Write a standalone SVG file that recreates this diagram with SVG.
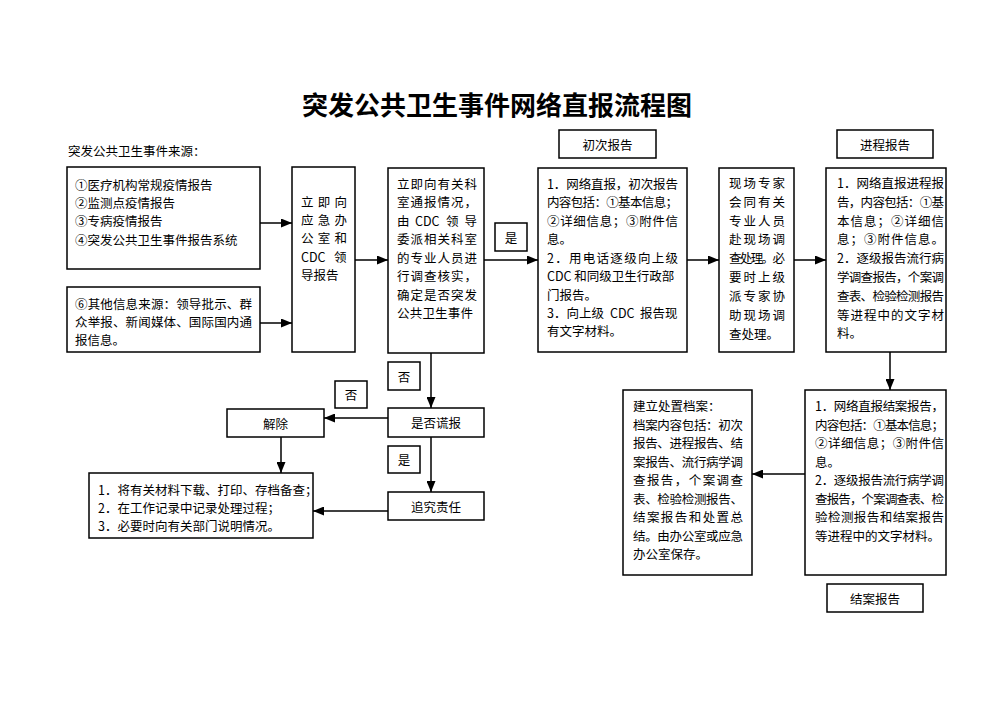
<svg xmlns="http://www.w3.org/2000/svg" width="1000" height="707" viewBox="0 0 1000 707">
<style>
text{font-family:"Noto Sans CJK SC","Noto Sans",sans-serif;font-size:12.5px;fill:#000;dominant-baseline:central}
.title{font-size:26px;font-weight:bold;text-anchor:middle}
.mid{text-anchor:middle}
rect{fill:#fff;stroke:#000;stroke-width:1.5}
.conn line{stroke:#000;stroke-width:1.5;marker-end:url(#arr)}
</style>
<defs>
<marker id="arr" markerUnits="userSpaceOnUse" markerWidth="11" markerHeight="9" refX="11" refY="4.5" orient="auto">
<path d="M0,0 L11,4.5 L0,9 z" fill="#000"/>
</marker>
</defs>
<rect x="0" y="0" width="1000" height="707" style="stroke:none;fill:#fff"/>
<text class="title" x="497" y="103">突发公共卫生事件网络直报流程图</text>
<text x="68" y="150">突发公共卫生事件来源：</text>

<g class="conn">
<line x1="260" y1="223" x2="292" y2="223"/>
<line x1="260" y1="323" x2="292" y2="323"/>
<line x1="355" y1="260" x2="388" y2="260"/>
<line x1="484" y1="260" x2="538" y2="260"/>
<line x1="687" y1="260" x2="719" y2="260"/>
<line x1="794" y1="260" x2="826" y2="260"/>
<line x1="890" y1="352" x2="890" y2="390"/>
<line x1="805" y1="474" x2="752" y2="474"/>
<line x1="431" y1="353" x2="431" y2="408"/>
<line x1="388" y1="418" x2="324" y2="418"/>
<line x1="431" y1="437" x2="431" y2="492"/>
<line x1="281" y1="437" x2="281" y2="473"/>
<line x1="388" y1="511" x2="313" y2="511"/>
</g>

<g id="src1">
<rect x="67" y="167" width="193" height="102"/>
<text x="75" y="184">①医疗机构常规疫情报告</text>
<text x="75" y="202">②监测点疫情报告</text>
<text x="75" y="220">③专病疫情报告</text>
<text x="75" y="239">④突发公共卫生事件报告系统</text>
</g>

<g id="src2">
<rect x="67" y="287" width="193" height="65"/>
<text x="75" y="303" textLength="177" lengthAdjust="spacing">⑥其他信息来源：领导批示、群</text>
<text x="75" y="321" textLength="177" lengthAdjust="spacing">众举报、新闻媒体、国际国内通</text>
<text x="75" y="339">报信息。</text>
</g>

<g id="report">
<rect x="292" y="167" width="63" height="185"/>
<text x="301" y="201" textLength="46" lengthAdjust="spacing">立即向</text>
<text x="301" y="219" textLength="46" lengthAdjust="spacing">应急办</text>
<text x="301" y="237" textLength="46" lengthAdjust="spacing">公室和</text>
<text y="256"><tspan x="301">CDC</tspan><tspan x="334">领</tspan></text>
<text x="301" y="274">导报告</text>
</g>

<g id="verify">
<rect x="388" y="168" width="96" height="185"/>
<text x="397" y="183" textLength="80" lengthAdjust="spacing">立即向有关科</text>
<text x="397" y="201" textLength="80" lengthAdjust="spacing">室通报情况，</text>
<text y="220"><tspan x="397">由</tspan><tspan x="415">CDC</tspan><tspan x="446">领</tspan><tspan x="464.5">导</tspan></text>
<text x="397" y="238" textLength="80" lengthAdjust="spacing">委派相关科室</text>
<text x="397" y="257" textLength="80" lengthAdjust="spacing">的专业人员进</text>
<text x="397" y="275" textLength="80" lengthAdjust="spacing">行调查核实，</text>
<text x="397" y="294" textLength="80" lengthAdjust="spacing">确定是否突发</text>
<text x="397" y="312" textLength="76" lengthAdjust="spacing">公共卫生事件</text>
</g>

<g id="yes1"><rect x="495" y="223" width="32" height="28"/><text class="mid" x="511" y="237">是</text></g>

<g id="initialLabel"><rect x="559" y="130" width="97" height="28"/><text class="mid" x="607.5" y="144">初次报告</text></g>
<g id="initial">
<rect x="538" y="168" width="149" height="184"/>
<text x="547" y="183" textLength="131" lengthAdjust="spacing">1．网络直报，初次报告</text>
<text x="547" y="201" textLength="131" lengthAdjust="spacing">内容包括：①基本信息；</text>
<text x="547" y="220" textLength="131" lengthAdjust="spacing">②详细信息；③附件信</text>
<text x="547" y="238">息。</text>
<text x="547" y="257" textLength="131" lengthAdjust="spacing">2．用电话逐级向上级</text>
<text x="547" y="275">CDC 和同级卫生行政部</text>
<text x="547" y="294">门报告。</text>
<text y="312"><tspan x="547">3．向上级</tspan><tspan x="610">CDC</tspan><tspan x="640">报告现</tspan></text>
<text x="547" y="330">有文字材料。</text>
</g>

<g id="onsite">
<rect x="719" y="168" width="75" height="184"/>
<text x="729" y="182" textLength="56" lengthAdjust="spacing">现场专家</text>
<text x="729" y="201" textLength="56" lengthAdjust="spacing">会同有关</text>
<text x="729" y="220" textLength="56" lengthAdjust="spacing">专业人员</text>
<text x="729" y="238" textLength="56" lengthAdjust="spacing">赴现场调</text>
<text x="729" y="257" textLength="56" lengthAdjust="spacing">查处理。必</text>
<text x="729" y="276" textLength="56" lengthAdjust="spacing">要时上级</text>
<text x="729" y="295" textLength="56" lengthAdjust="spacing">派专家协</text>
<text x="729" y="314" textLength="56" lengthAdjust="spacing">助现场调</text>
<text x="729" y="333">查处理。</text>
</g>

<g id="progressLabel"><rect x="837" y="130" width="96" height="28"/><text class="mid" x="885" y="144">进程报告</text></g>
<g id="progress">
<rect x="826" y="168" width="120" height="184"/>
<text x="837" y="182" textLength="107" lengthAdjust="spacing">1．网络直报进程报</text>
<text x="837" y="201" textLength="107" lengthAdjust="spacing">告，内容包括：①基</text>
<text x="837" y="220" textLength="107" lengthAdjust="spacing">本信息；②详细信</text>
<text x="837" y="238" textLength="107" lengthAdjust="spacing">息；③附件信息。</text>
<text x="837" y="257" textLength="107" lengthAdjust="spacing">2．逐级报告流行病</text>
<text x="837" y="276" textLength="107" lengthAdjust="spacing">学调查报告，个案调</text>
<text x="837" y="295" textLength="107" lengthAdjust="spacing">查表、检验检测报告</text>
<text x="837" y="314" textLength="107" lengthAdjust="spacing">等进程中的文字材</text>
<text x="837" y="332">料。</text>
</g>

<g id="final">
<rect x="805" y="390" width="141" height="185"/>
<text x="815" y="405" textLength="129" lengthAdjust="spacing">1．网络直报结案报告，</text>
<text x="815" y="424" textLength="129" lengthAdjust="spacing">内容包括：①基本信息；</text>
<text x="815" y="442" textLength="129" lengthAdjust="spacing">②详细信息；③附件信</text>
<text x="815" y="461">息。</text>
<text x="815" y="479" textLength="129" lengthAdjust="spacing">2．逐级报告流行病学调</text>
<text x="815" y="498" textLength="129" lengthAdjust="spacing">查报告，个案调查表、检</text>
<text x="815" y="516" textLength="129" lengthAdjust="spacing">验检测报告和结案报告</text>
<text x="815" y="535">等进程中的文字材料。</text>
</g>
<g id="finalLabel"><rect x="827" y="584" width="96" height="28"/><text class="mid" x="875" y="598">结案报告</text></g>

<g id="archive">
<rect x="623" y="390" width="129" height="185"/>
<text x="633" y="405">建立处置档案：</text>
<text x="633" y="424" textLength="110" lengthAdjust="spacing">档案内容包括：初次</text>
<text x="633" y="442" textLength="110" lengthAdjust="spacing">报告、进程报告、结</text>
<text x="633" y="461" textLength="110" lengthAdjust="spacing">案报告、流行病学调</text>
<text x="633" y="479" textLength="110" lengthAdjust="spacing">查报告，个案调查</text>
<text x="633" y="498" textLength="110" lengthAdjust="spacing">表、检验检测报告、</text>
<text x="633" y="516" textLength="110" lengthAdjust="spacing">结案报告和处置总</text>
<text x="633" y="535" textLength="110" lengthAdjust="spacing">结。由办公室或应急</text>
<text x="633" y="553">办公室保存。</text>
</g>

<g id="no1"><rect x="388" y="362" width="32" height="28"/><text class="mid" x="404" y="376">否</text></g>
<g id="false"><rect x="388" y="408" width="96" height="29"/><text class="mid" x="436" y="422.5">是否谎报</text></g>
<g id="no2"><rect x="335" y="381" width="32" height="27"/><text class="mid" x="351" y="394.5">否</text></g>
<g id="release"><rect x="227" y="409" width="97" height="28"/><text class="mid" x="275.5" y="423">解除</text></g>
<g id="yes2"><rect x="388" y="446" width="32" height="27"/><text class="mid" x="404" y="459.5">是</text></g>
<g id="blame"><rect x="388" y="492" width="96" height="28"/><text class="mid" x="436" y="506">追究责任</text></g>

<g id="record">
<rect x="89" y="473" width="224" height="65"/>
<text x="98" y="489">1．将有关材料下载、打印、存档备查；</text>
<text x="98" y="507">2．在工作记录中记录处理过程；</text>
<text x="98" y="525">3．必要时向有关部门说明情况。</text>
</g>
</svg>
